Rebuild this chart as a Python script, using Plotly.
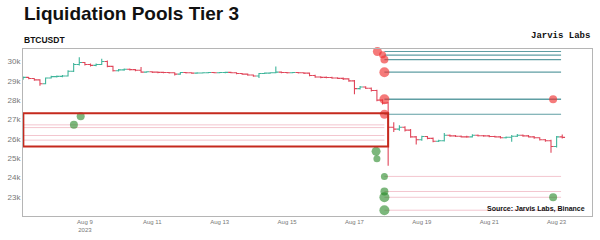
import pandas as pd
import plotly.graph_objects as go

# ---- candle data (4h, USD) ----
candle_start = "2023-08-07 04:00"
first_open = 29100
closes = [29180,29120,29050,28850,29150,29220,29230,29250,29500,29850,
          29950,29850,29800,29850,30000,29750,29520,29570,29600,29580,
          29550,29450,29470,29450,29440,29430,29420,29350,29430,29420,
          29400,29410,29420,29430,29420,29430,29440,29420,29380,29350,
          29300,29250,29380,29400,29420,29450,29430,29420,29430,29420,
          29400,29280,29200,29180,29170,29150,29130,29100,29000,28600,
          28680,28620,28500,28000,27850,26600,26500,26600,26450,26100,
          25950,26120,26020,25870,25900,26180,26150,26130,26100,26100,
          26180,26160,26150,26120,26100,26050,26080,26130,26180,26150,
          26100,26050,25950,25900,25600,26100,26070]
highs = [29220,29200,29140,29080,29180,29260,29280,29300,29550,29920,
         30220,29980,29900,29900,30150,30050,29780,29620,29640,29640,
         29620,29720,29500,29500,29480,29470,29460,29450,29460,29460,
         29450,29440,29450,29460,29460,29460,29470,29470,29450,29410,
         29380,29330,29410,29430,29450,29750,29480,29460,29460,29460,
         29450,29430,29310,29240,29220,29210,29190,29170,29140,29040,
         28740,28720,28660,28540,28050,27900,26850,26700,26650,26500,
         26150,26160,26150,26060,25950,26300,26220,26190,26170,26160,
         26240,26220,26200,26190,26160,26140,26120,26200,26250,26220,
         26190,26140,26080,25990,25950,26150,26220]
lows = [29060,29080,29000,28750,28820,29120,29180,29190,29220,29460,
        29800,29800,29750,29760,29820,29700,29480,29480,29520,29530,
        29500,29420,29420,29410,29400,29390,29380,29280,29320,29380,
        29370,29370,29380,29390,29390,29390,29400,29390,29340,29310,
        29270,29210,29150,29350,29370,29390,29400,29380,29390,29380,
        29360,29240,29160,29140,29130,29110,29090,29050,28950,28300,
        28550,28580,28450,27950,27780,24600,26350,26420,26380,26050,
        25700,25900,25980,25820,25830,25860,26100,26090,26060,26050,
        26060,26120,26110,26080,26060,26010,26010,25850,26090,26100,
        26060,26000,25910,25840,25270,25550,26020]

# ---- liquidation pool levels ----
short_levels = [30520, 30330, 30100, 29450, 28050, 27270]
short_widths = [1.2, 1.2, 1.2, 1.2, 1.6, 1.2]
long_levels = [24050, 23270, 22970, 22300]
box_levels = [26720, 26580, 26170, 25930]
pool_start = "2023-08-17 21:20"
pool_end = "2023-08-23 03:10"
box_line_start = "2023-08-07 04:00"

red_times = ["2023-08-17 16:20", "2023-08-17 20:00", "2023-08-17 21:20", "2023-08-17 21:20",
             "2023-08-17 21:20", "2023-08-17 21:20", "2023-08-22 21:30"]
red_prices = [30520, 30350, 30100, 29450, 28050, 27270, 28050]
red_sizes = [9, 7, 8, 10, 10, 9, 8]

green_times = ["2023-08-08 16:10", "2023-08-08 21:00", "2023-08-17 15:25", "2023-08-17 16:00",
               "2023-08-17 21:20", "2023-08-17 21:20", "2023-08-17 21:20", "2023-08-17 21:20",
               "2023-08-22 21:30"]
green_prices = [26720, 27170, 25350, 24970, 24050, 23270, 22970, 22300, 22970]
green_sizes = [8, 8, 9, 7, 7, 8, 10, 10, 8]

box_x = ["2023-08-07 04:10", "2023-08-18 00:00"]
box_y = [25600, 27320]

x_range = ["2023-08-07 03:55", "2023-08-24 01:12"]
y_range = [22000, 30650]
y_ticks = [23000, 24000, 25000, 26000, 27000, 28000, 29000, 30000]
y_ticktext = ["23k", "24k", "25k", "26k", "27k", "28k", "29k", "30k"]

times = pd.date_range(candle_start, periods=len(closes), freq="4h")
opens = [first_open] + closes[:-1]

fig = go.Figure()

for lvl in box_levels:
    fig.add_trace(go.Scatter(x=[box_line_start, pool_start], y=[lvl, lvl], mode="lines",
                             line=dict(color="#f3c6cf", width=1), hoverinfo="skip", showlegend=False))
for lvl in long_levels:
    fig.add_trace(go.Scatter(x=[pool_start, pool_end], y=[lvl, lvl], mode="lines",
                             line=dict(color="#f3c6cf", width=1), hoverinfo="skip", showlegend=False))
for lvl, w in zip(short_levels, short_widths):
    fig.add_trace(go.Scatter(x=[pool_start, pool_end], y=[lvl, lvl], mode="lines",
                             line=dict(color="#5f9ea3", width=w), hoverinfo="skip", showlegend=False))

fig.add_trace(go.Ohlc(
    x=times, open=opens, high=highs, low=lows, close=closes, tickwidth=0.5,
    increasing=dict(line=dict(color="#3fb59b", width=1.1)),
    decreasing=dict(line=dict(color="#e0465a", width=1.1)),
    showlegend=False))

fig.add_trace(go.Scatter(x=red_times, y=red_prices, mode="markers", cliponaxis=False,
                         marker=dict(color="rgba(240,50,50,0.93)", size=red_sizes, line=dict(width=0)),
                         showlegend=False))
fig.add_trace(go.Scatter(x=green_times, y=green_prices, mode="markers", cliponaxis=False,
                         marker=dict(color="rgba(35,135,35,0.85)", size=green_sizes, line=dict(width=0)),
                         showlegend=False))

fig.add_shape(type="rect", xref="x", yref="y", x0=box_x[0], x1=box_x[1], y0=box_y[0], y1=box_y[1],
              line=dict(color="#c52a1e", width=2), fillcolor="rgba(0,0,0,0)")

fig.update_layout(
    width=600, height=240,
    margin=dict(l=23, r=7, t=49, b=18),
    paper_bgcolor="white", plot_bgcolor="white",
    font=dict(family="Liberation Sans, Arial, sans-serif", color="#777"),
    showlegend=False,
    annotations=[
        dict(text="<b>Liquidation Pools Tier 3</b>", xref="paper", yref="paper", x=-0.002, y=1.21,
             xanchor="left", yanchor="middle", showarrow=False,
             font=dict(size=19, color="#111", family="Liberation Sans, Arial, sans-serif")),
        dict(text="<b>BTCUSDT</b>", xref="paper", yref="paper", x=-0.002, y=1.054,
             xanchor="left", yanchor="middle", showarrow=False,
             font=dict(size=8.5, color="#111", family="Liberation Sans, Arial, sans-serif")),
        dict(text="<b>Jarvis Labs</b>", xref="paper", yref="paper", x=1.0, y=1.08,
             xanchor="right", yanchor="middle", showarrow=False,
             font=dict(size=9, color="#111", family="Liberation Mono, Courier New, monospace")),
        dict(text="<b>Source: Jarvis Labs, Binance</b>", xref="paper", yref="paper", x=0.812, y=0.04,
             xanchor="left", yanchor="middle", showarrow=False,
             font=dict(size=7, color="#111", family="Liberation Sans, Arial, sans-serif")),
    ],
)
fig.update_xaxes(range=x_range, rangeslider=dict(visible=False), showgrid=False, zeroline=False,
                 showline=True, linecolor="#b5b5b5", linewidth=1, mirror=True,
                 tick0="2023-08-09", dtick=2 * 86400000, ticks="",
                 tickfont=dict(size=6, color="#777"))
fig.update_yaxes(range=y_range, showgrid=False, zeroline=False, showline=True, linecolor="#b5b5b5",
                 linewidth=1, mirror=True, tickvals=y_ticks, ticktext=y_ticktext, ticks="",
                 tickfont=dict(size=8, color="#777"))

fig.write_html("out.html")
